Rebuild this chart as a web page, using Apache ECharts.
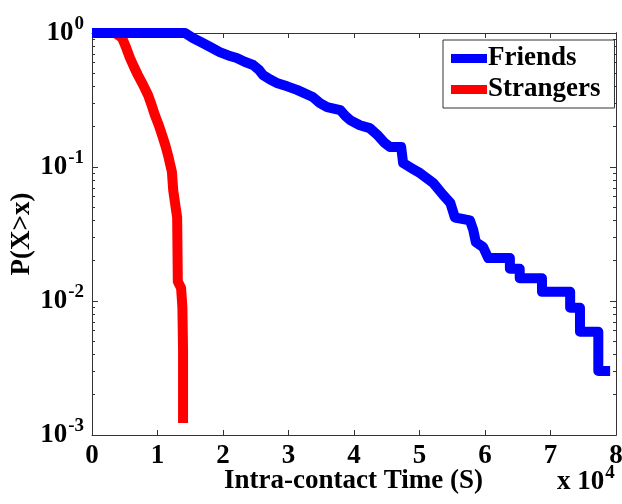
<!DOCTYPE html>
<html>
<head>
<meta charset="utf-8">
<script src="https://cdn.jsdelivr.net/npm/echarts@6/dist/echarts.min.js"></script>
<style>
  html, body { margin: 0; padding: 0; background: #fff; }
  #chart { width: 622px; height: 504px; }
</style>
</head>
<body>
<div id="chart"></div>
<script>
// CCDF of intra-contact time, x in units of 10^4 s
// repeated x values are the vertical drops of the staircase
const friendsX = [0, 1.42, 1.54, 1.69, 1.82, 1.95, 2.08, 2.21, 2.33, 2.46, 2.55, 2.61, 2.72, 2.82, 2.98, 3.13, 3.37, 3.48, 3.59, 3.79, 3.87, 3.94, 4.09, 4.24, 4.35, 4.47, 4.55, 4.72, 4.75, 4.88, 5.01, 5.21, 5.36, 5.47, 5.54, 5.77, 5.82, 5.86, 5.97, 6.05, 6.38, 6.38, 6.53, 6.53, 6.87, 6.87, 7.30, 7.30, 7.45, 7.45, 7.73, 7.73, 7.91];
const friendsY = [1, 1, 0.918, 0.842, 0.78, 0.721, 0.68, 0.651, 0.61, 0.577, 0.53, 0.486, 0.45, 0.424, 0.40, 0.376, 0.333, 0.30, 0.280, 0.266, 0.24, 0.224, 0.205, 0.195, 0.175, 0.151, 0.141, 0.141, 0.107, 0.098, 0.090, 0.076, 0.062, 0.054, 0.042, 0.040, 0.034, 0.0275, 0.0253, 0.0209, 0.0209, 0.0174, 0.0174, 0.0148, 0.0148, 0.0117, 0.0117, 0.0089, 0.0089, 0.0059, 0.0059, 0.0030, 0.0030];

const strangersX = [0, 0.35, 0.46, 0.52, 0.58, 0.64, 0.70, 0.78, 0.855, 0.91, 0.96, 1.02, 1.07, 1.12, 1.16, 1.22, 1.24, 1.27, 1.30, 1.31, 1.36, 1.38, 1.39, 1.39];
const strangersY = [1, 1, 0.918, 0.78, 0.651, 0.56, 0.486, 0.41, 0.345, 0.29, 0.244, 0.205, 0.173, 0.145, 0.123, 0.092, 0.067, 0.053, 0.042, 0.0140, 0.0125, 0.0090, 0.0043, 0.00123];

const xTicks = [0, 1, 2, 3, 4, 5, 6, 7, 8];
const yMajor = [0.001, 0.01, 0.1, 1];
const yMinor = [];
[0.001, 0.01, 0.1].forEach(d => { for (let k = 2; k <= 9; k++) yMinor.push(+(d * k).toPrecision(3)); });

const font = '"Liberation Serif", "Times New Roman", serif';
const axisColor = '#333';

const pairs = (xs, ys) => xs.map((x, i) => [x, ys[i]]);

const powRich = {
  b: { fontFamily: font, fontWeight: 'bold', fontSize: 27, color: '#000', lineHeight: 36 },
  s: { fontFamily: font, fontWeight: 'bold', fontSize: 19, color: '#000', lineHeight: 19, verticalAlign: 'top', padding: [0, 0, 0, 1] }
};

const logAxis = (pos, vals, len, labels) => ({
  type: 'log',
  logBase: 10,
  position: pos,
  min: 0.001,
  max: 1,
  axisLine: { show: true, onZero: false, lineStyle: { color: axisColor, width: 1 } },
  axisTick: { show: true, inside: true, length: len, customValues: vals, lineStyle: { color: axisColor } },
  axisLabel: labels ? {
    show: true,
    customValues: yMajor,
    margin: 8,
    formatter: v => '{b|10}{s|' + Math.round(Math.log10(v)) + '}',
    rich: powRich
  } : { show: false },
  splitLine: { show: false }
});

const chart = echarts.init(document.getElementById('chart'));
chart.setOption({
  animation: false,
  backgroundColor: '#fff',
  grid: { left: 92, top: 33, right: 6, bottom: 69, containLabel: false, outerBoundsMode: 'none' },
  title: [
    {
      text: 'Intra-contact Time (S)',
      left: 224,
      top: 468,
      padding: 0,
      textStyle: { fontFamily: font, fontWeight: 'bold', fontSize: 27, color: '#000' }
    },
    {
      text: '{b|x 10}{s|4}',
      left: 557,
      top: 464,
      padding: 0,
      textStyle: { rich: powRich }
    }
  ],
  legend: {
    orient: 'vertical',
    left: 443,
    top: 40,
    padding: [5, 14, 5, 8],
    itemGap: 4,
    itemWidth: 36,
    itemHeight: 9,
    icon: 'rect',
    borderColor: axisColor,
    borderWidth: 1,
    backgroundColor: '#fff',
    textStyle: { fontFamily: font, fontWeight: 'bold', fontSize: 27, color: '#000', padding: [0, 0, 0, -4] },
    data: ['Friends', 'Strangers']
  },
  xAxis: [
    {
      type: 'value', position: 'bottom', min: 0, max: 8, interval: 1,
      axisLine: { show: true, onZero: false, lineStyle: { color: axisColor, width: 1 } },
      axisTick: { show: true, inside: true, length: 5, lineStyle: { color: axisColor } },
      axisLabel: { show: true, margin: 8, fontFamily: font, fontWeight: 'bold', fontSize: 27, color: '#000',
        formatter: v => xTicks.includes(v) ? String(v) : '' },
      splitLine: { show: false }
    },
    {
      type: 'value', position: 'top', min: 0, max: 8, interval: 1,
      axisLine: { show: true, onZero: false, lineStyle: { color: axisColor, width: 1 } },
      axisTick: { show: true, inside: true, length: 5, lineStyle: { color: axisColor } },
      axisLabel: { show: false },
      splitLine: { show: false }
    }
  ],
  yAxis: [
    Object.assign(logAxis('left', yMajor, 6, true), {
      name: 'P(X>x)', nameLocation: 'middle', nameGap: 56, nameRotate: 90, nameMoveOverlap: false,
      nameTextStyle: { fontFamily: font, fontWeight: 'bold', fontSize: 27, color: '#000' }
    }),
    logAxis('left', yMinor, 3, false),
    logAxis('right', yMajor, 6, false),
    logAxis('right', yMinor, 3, false)
  ],
  series: [
    {
      name: 'Friends', type: 'line', xAxisIndex: 0, yAxisIndex: 0,
      data: pairs(friendsX, friendsY), showSymbol: false, symbol: 'none',
      color: '#0000ff', lineStyle: { color: '#0000ff', width: 10, join: 'round' }, z: 3
    },
    {
      name: 'Strangers', type: 'line', xAxisIndex: 0, yAxisIndex: 0,
      data: pairs(strangersX, strangersY), showSymbol: false, symbol: 'none',
      color: '#ff0000', lineStyle: { color: '#ff0000', width: 10, join: 'round' }, z: 2
    }
  ]
});
</script>
</body>
</html>
